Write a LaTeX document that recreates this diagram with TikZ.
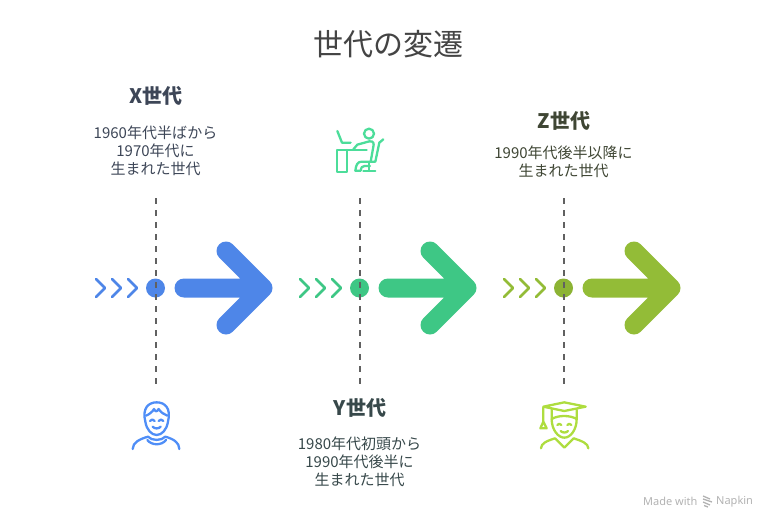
\documentclass[tikz,border=0pt]{standalone}
\usepackage{fontspec}
\setmainfont{Noto Sans CJK JP}
\newfontfamily\markfont{Noto Sans}
\definecolor{genblue}{HTML}{4E86E8}
\definecolor{gengreen}{HTML}{3EC785}
\definecolor{genolive}{HTML}{93BC37}
\definecolor{iconblue}{HTML}{4F8EF7}
\definecolor{icongreen}{HTML}{4CDD9A}
\definecolor{iconolive}{HTML}{AEDD3F}
\definecolor{titlegray}{HTML}{444444}
\definecolor{bluetext}{HTML}{3D4657}
\definecolor{greentext}{HTML}{37484A}
\definecolor{olivetext}{HTML}{3F4634}
\begin{document}
\begin{tikzpicture}[
    x=1pt,
    y=-1pt,
    % Styles
    title/.style={% For the title on top
        font=\fontsize{30}{34}\selectfont,
        text=titlegray,
        },
    heading/.style={% For the generation names
        font=\fontsize{20}{24}\selectfont\bfseries,
        },
    body/.style={% For the text under a name
        font=\fontsize{15}{18}\selectfont,
        align=center,
        },
    timeline/.style={% For the vertical lines
        dash pattern=on 6pt off 6pt,
        line width=2pt,
        draw=black!62,
        },
    dot/.style={% For the dot on a line
        circle,
        inner sep=0pt,
        minimum size=19pt,
        },
    chevron/.style={% For the small arrows
        line width=2.7pt,
        line cap=round,
        line join=round,
        },
    bigarrow/.style={% For the fat arrows
        line width=19pt,
        line cap=round,
        line join=round,
        },
    icon/.style={% For the line icons
        line width=2.3pt,
        line cap=round,
        line join=round,
        },
    ]
    \useasboundingbox (0,0) rectangle (776,528);

    % Title and texts
    \node [title] (title) at (388,44) {世代の変遷};
    \node [heading, text=bluetext] (xname) at (156,96) {X世代};
    \node [body, text=bluetext] (xtext) at (155.5,150.5) {1960年代半ばから\\1970年代に\\生まれた世代};
    \node [heading, text=greentext] (yname) at (360,408) {Y世代};
    \node [body, text=greentext] (ytext) at (359.5,461.5) {1980年代初頭から\\1990年代後半に\\生まれた世代};
    \node [heading, text=olivetext] (zname) at (564,120.5) {Z世代};
    \node [body, text=olivetext] (ztext) at (563.5,162) {1990年代後半以降に\\生まれた世代};

    % Dashed lines ends
    \coordinate (xtop) at (155.5,198);
    \coordinate (xbot) at (155.5,386);
    \coordinate (ytop) at (359.5,198);
    \coordinate (ybot) at (359.5,386);
    \coordinate (ztop) at (563.5,198);
    \coordinate (zbot) at (563.5,386);

    % Draw dots
    \node [dot, fill=genblue] (xdot) at (155.5,288) {};
    \node [dot, fill=gengreen] (ydot) at (359.5,288) {};
    \node [dot, fill=genolive!95!black] (zdot) at (563.5,288) {};

    \draw [timeline] (xtop) -- (xbot);
    \draw [timeline] (ytop) -- (ybot);
    \draw [timeline] (ztop) -- (zbot);

    % Small arrows
    \draw [chevron, genblue] (96,279) -- (105,288) -- (96,297);
    \draw [chevron, genblue] (112,279) -- (121,288) -- (112,297);
    \draw [chevron, genblue] (128,279) -- (137,288) -- (128,297);
    \draw [chevron, gengreen] (300,279) -- (309,288) -- (300,297);
    \draw [chevron, gengreen] (316,279) -- (325,288) -- (316,297);
    \draw [chevron, gengreen] (332,279) -- (341,288) -- (332,297);
    \draw [chevron, genolive] (504,279) -- (513,288) -- (504,297);
    \draw [chevron, genolive] (520,279) -- (529,288) -- (520,297);
    \draw [chevron, genolive] (536,279) -- (545,288) -- (536,297);

    % Fat arrows
    \draw [bigarrow, genblue] (184,288) -- (262,288) (226,251) -- (263,288) -- (226,325);
    \draw [bigarrow, gengreen] (388,288) -- (466,288) (430,251) -- (467,288) -- (430,325);
    \draw [bigarrow, genolive] (592,288) -- (670,288) (634,251) -- (671,288) -- (634,325);

    % Person at a desk
    \begin{scope}[shift={(320,120)}, x=0.3333pt, y=-0.3333pt, icon, icongreen]
        \draw (147,41) circle (15);
        \draw (52,33) -- (66,68) -- (92,68);
        \draw (52,90) -- (140,90) (52,90) -- (52,155) -- (80,155) -- (80,90);
        \draw (100,88) -- (112,74) -- (148,64) .. controls (162,62) and (162,72) .. (160,80) -- (152,125) -- (125,125) .. controls (112,125) and (108,135) .. (106,152) -- (122,152) .. controls (124,142) and (126,138) .. (134,138) -- (150,138);
        \draw (190,58) -- (178,68) -- (166,125) -- (152,125);
        \draw (148,128) -- (148,152) (130,152) -- (166,152);
    \end{scope}

    % Boy
    \begin{scope}[shift={(120,395)}, x=0.3333pt, y=-0.3333pt, icon, iconblue]
        \draw (76,80) .. controls (66,40) and (85,22) .. (110,22) .. controls (135,22) and (154,40) .. (144,80) .. controls (140,105) and (125,120) .. (110,120) .. controls (95,120) and (80,105) .. (76,80);
        \draw (78,62) .. controls (88,58) and (98,50) .. (102,42) .. controls (106,50) and (110,52) .. (116,42) .. controls (122,52) and (132,58) .. (142,62);
        \draw (90,78) .. controls (94,72) and (100,72) .. (104,78);
        \draw (116,78) .. controls (120,72) and (126,72) .. (130,78);
        \draw (98,95) .. controls (104,102) and (116,102) .. (122,95);
        \draw (38,162) .. controls (38,142) and (60,132) .. (84,125) .. controls (95,138) and (125,138) .. (136,125) .. controls (160,132) and (178,142) .. (178,162);
        \draw (82,135) .. controls (95,152) and (125,152) .. (138,135);
    \end{scope}

    % Graduate
    \begin{scope}[shift={(525,395)}, x=0.3333pt, y=-0.3333pt, icon, iconolive]
        \draw (118,22) -- (182,35) -- (118,48) -- (55,35) -- cycle;
        \draw (80,44) -- (80,72) .. controls (100,60) and (135,60) .. (155,72) -- (155,44);
        \draw (55,37) -- (55,80) (55,80) -- (46,100) -- (65,100) -- cycle;
        \draw (80,72) .. controls (80,105) and (100,128) .. (118,128) .. controls (136,128) and (155,105) .. (155,72);
        \draw (97,90) .. controls (100,85) and (106,85) .. (109,90);
        \draw (127,90) .. controls (130,85) and (136,85) .. (139,90);
        \draw (107,108) .. controls (112,114) and (124,114) .. (129,108);
        \draw (48,160) .. controls (48,145) and (65,138) .. (90,130) -- (118,158) -- (146,130) .. controls (170,138) and (190,145) .. (190,160);
    \end{scope}

    % Corner mark
    \node [anchor=west, inner sep=0pt, text=black!30, font=\markfont\fontsize{11}{12}\selectfont] (made) at (643,501.5) {Made with};
    \node [anchor=west, inner sep=0pt, text=black!30, font=\markfont\fontsize{11}{12}\selectfont] (napkin) at (716,501.5) {Napkin};
    \draw [black!30, line width=1.3pt] (703,496) -- (710,499) (703,499) -- (712,502) (703,502) -- (710,505) (704,505.5) -- (708,507);
\end{tikzpicture}
\end{document}
